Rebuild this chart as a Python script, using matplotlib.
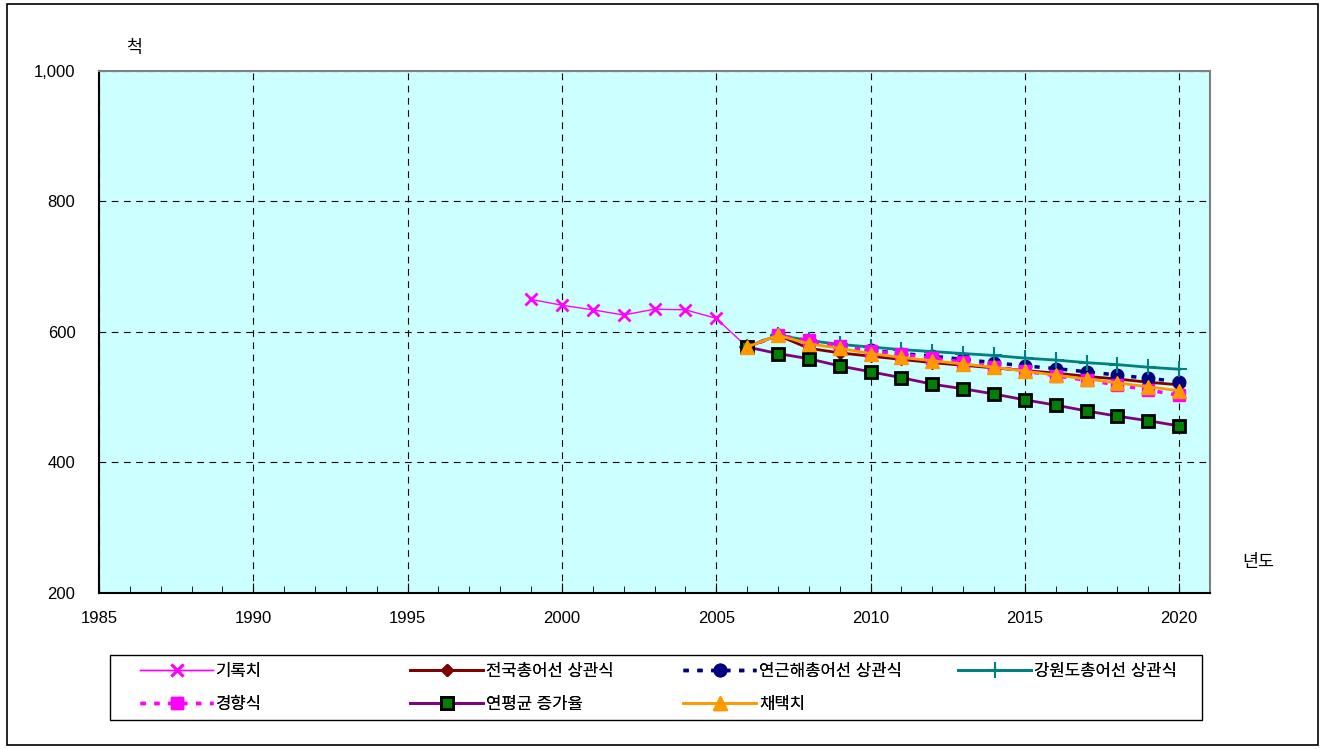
import matplotlib.pyplot as plt
from matplotlib.patches import Rectangle
from matplotlib.ticker import MultipleLocator, FuncFormatter

plt.rcParams['font.family'] = ['Liberation Sans', 'Noto Sans CJK KR', 'DejaVu Sans']

# recorded values
rec_years = [1999, 2000, 2001, 2002, 2003, 2004, 2005, 2006]
rec_vals = [650, 641, 634, 626, 635, 634, 621, 577]

# forecast years
fc_years = list(range(2006, 2021))
national = [577, 595, 575, 568, 563, 558, 553, 549, 545, 541, 537, 532, 528, 523, 519]
coastal = [577, 595, 585, 577, 572, 567, 563, 558, 553, 548, 544, 539, 534, 529, 524]
gangwon = [577, 595, 587, 581, 577, 573, 570, 567, 564, 560, 557, 553, 550, 546, 543]
trend = [577, 595, 587, 579, 571, 566, 560, 554, 547, 540, 533, 526, 519, 511, 503]
avg_rate = [577, 567, 559, 548, 539, 530, 520, 513, 505, 496, 488, 479, 471, 464, 456]
adopted = [577, 595, 582, 575, 567, 561, 556, 551, 546, 540, 534, 528, 522, 516, 510]

labels = ['기록치', '전국총어선 상관식', '연근해총어선 상관식', '강원도총어선 상관식',
          '경향식', '연평균 증가율', '채택치']


def main():
    W, H = 1323, 749
    fig = plt.figure(figsize=(13.23, 7.49), dpi=100)
    ax = fig.add_axes([99 / W, 1 - 593 / H, (1210 - 99) / W, (593 - 71) / H])
    ax.set_facecolor('#CCFFFF')

    h_rec, = ax.plot(rec_years, rec_vals, color='#FF00FF', lw=1, marker='x', ms=8, mew=2)
    h_nat, = ax.plot(fc_years, national, color='#800000', lw=2, marker='D', ms=6)
    h_coa, = ax.plot(fc_years, coastal, color='#000080', lw=2.5, ls=(0, (1.5, 2.5)),
                     marker='o', ms=9)
    h_gw, = ax.plot(fc_years, gangwon, color='#008080', lw=2, marker='+', ms=12, mew=1.5)
    h_tr, = ax.plot(fc_years, trend, color='#FF00FF', lw=2.5, ls=(0, (1.5, 2.5)),
                    marker='s', ms=9)
    h_avg, = ax.plot(fc_years, avg_rate, color='#800080', lw=2, marker='s', ms=8,
                     mfc='#008000', mec='black', mew=2)
    h_ad, = ax.plot(fc_years, adopted, color='#FF9900', lw=2, marker='^', ms=10)

    ax.set_xlim(1985, 2021)
    ax.set_ylim(200, 1000)
    ax.xaxis.set_major_locator(MultipleLocator(5))
    ax.xaxis.set_minor_locator(MultipleLocator(1))
    ax.yaxis.set_major_locator(MultipleLocator(200))
    ax.yaxis.set_major_formatter(FuncFormatter(lambda v, p: f'{int(v):,}'))
    ax.tick_params(axis='x', which='both', direction='in', labelsize=12, pad=13)
    ax.tick_params(axis='x', which='major', length=7)
    ax.tick_params(axis='x', which='minor', length=5)
    ax.tick_params(axis='y', direction='in', length=0, labelsize=12, pad=17)
    ax.grid(True, which='major', color='black', ls=(0, (6, 5)), lw=0.8)
    for s in ['top', 'right']:
        ax.spines[s].set_color('#808080')
        ax.spines[s].set_linewidth(1.5)
    for s in ['left', 'bottom']:
        ax.spines[s].set_linewidth(1.5)

    fig.text(134 / W, 1 - 48 / H, '척', fontsize=12.5, ha='center', va='center')
    fig.text(1258 / W, 1 - 562 / H, '년도', fontsize=12.5, ha='center', va='center')

    # legend: four columns placed like the spreadsheet's equal-width layout
    columns = [([h_rec, h_tr], [labels[0], labels[4]]),
               ([h_nat, h_avg], [labels[1], labels[5]]),
               ([h_coa, h_ad], [labels[2], labels[6]]),
               ([h_gw], [labels[3]])]
    col_x = [140, 410, 683, 958]
    for (hs, ns), x in zip(columns, col_x):
        leg = fig.legend(hs, ns, loc='upper left',
                         bbox_to_anchor=(x / W, 1 - 664 / H),
                         fontsize=12, frameon=False, handlelength=4.4,
                         borderpad=0, borderaxespad=0, labelspacing=1.08,
                         handletextpad=0.15)
        fig.add_artist(leg)

    fig.patches.append(Rectangle((110 / W, 1 - 720 / H), 1092 / W, 65 / H,
                                 transform=fig.transFigure, fill=False,
                                 edgecolor='black', lw=1))
    fig.patches.append(Rectangle((7 / W, 4 / H), 1311 / W, 741 / H,
                                 transform=fig.transFigure, fill=False,
                                 edgecolor='black', lw=1.2))

    fig.savefig('out.png', dpi=100)


if __name__ == "__main__":
    main()
